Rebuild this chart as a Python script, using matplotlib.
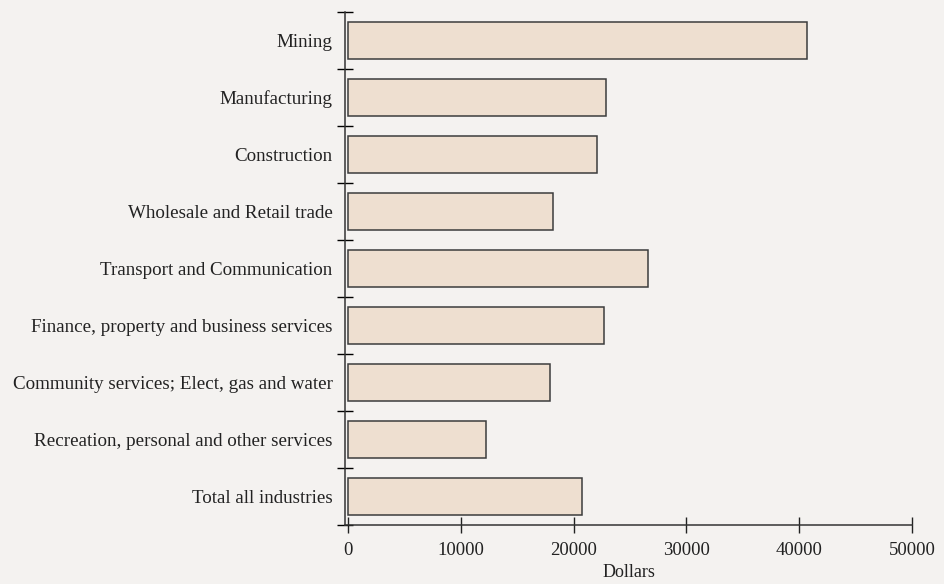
import matplotlib.pyplot as plt

# average earnings by industry
industries = ['Mining', 'Manufacturing', 'Construction', 'Wholesale and Retail trade',
              'Transport and Communication', 'Finance, property and business services',
              'Community services; Elect, gas and water',
              'Recreation, personal and other services', 'Total all industries']
dollars = [40700, 22900, 22050, 18150, 26600, 22700, 17900, 12250, 20700]

plt.rcParams['font.family'] = ['Liberation Serif', 'DejaVu Serif']

fig = plt.figure(figsize=(9.44, 5.84), dpi=100, facecolor='#f4f2f0')
ax = fig.add_axes([0.3655, 0.101, 0.6006, 0.8784])
ax.set_facecolor('#f4f2f0')

pos = list(range(len(industries)))[::-1]
ax.barh(pos, dollars, height=0.64, color='#eedfd0', edgecolor='#3c3c3c', linewidth=1.1)

ax.set_xlim(-266, 50000)
ax.set_ylim(-0.5, len(industries) - 0.5)
ax.set_xticks([0, 10000, 20000, 30000, 40000, 50000])
ax.set_xticklabels(['0', '10000', '20000', '30000', '40000', '50000'])

# category labels sit between the boundary ticks
ax.set_yticks(pos)
ax.set_yticklabels(industries)
ax.set_yticks([p - 0.5 for p in range(len(industries) + 1)], minor=True)
ax.tick_params(axis='y', which='major', length=0, pad=9, labelsize=13.7, colors='#222222')
ax.tick_params(axis='y', which='minor', direction='inout', length=11, width=1)
ax.tick_params(axis='x', direction='inout', length=11, width=1, pad=7, labelsize=13.5,
               colors='#222222')

for s in ['top', 'right']:
    ax.spines[s].set_visible(False)
for s in ['left', 'bottom']:
    ax.spines[s].set_linewidth(1.1)
    ax.spines[s].set_color('#333333')

ax.set_xlabel('Dollars', fontsize=13, color='#222222', labelpad=3)

fig.savefig('out.png', dpi=100, facecolor=fig.get_facecolor())
